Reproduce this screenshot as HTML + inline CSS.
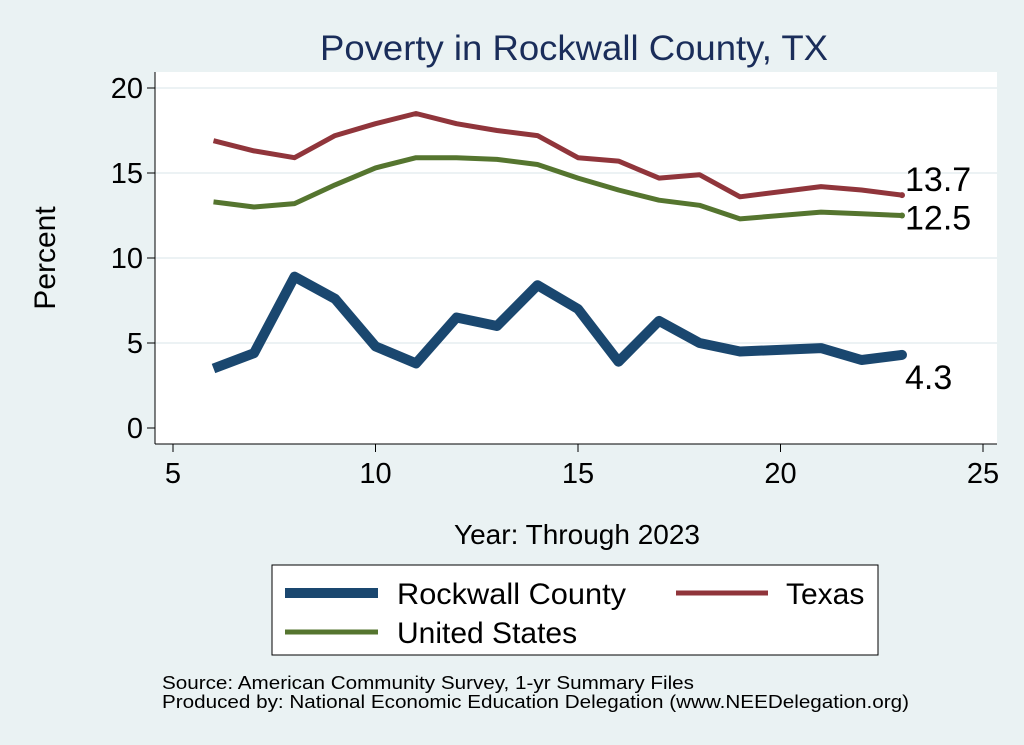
<!DOCTYPE html>
<html><head><meta charset="utf-8"><style>
body{margin:0;background:#eaf2f3;}
svg{display:block;font-family:"Liberation Sans",Arial,sans-serif;}
</style></head><body>
<svg id="c" width="1024" height="745">
<rect width="1024" height="745" fill="#eaf2f3"/>
<rect x="155" y="72" width="842" height="372" fill="#fff"/>
<text x="574" y="60" font-size="35" fill="#1a2d5a" text-anchor="middle" textLength="508" lengthAdjust="spacingAndGlyphs">Poverty in Rockwall County, TX</text>
<g id="grid"></g><g id="axes"></g><g id="lines"></g>
<text transform="translate(55,258) rotate(-90)" font-size="30" text-anchor="middle">Percent</text>
<text x="577" y="544" font-size="28" text-anchor="middle">Year: Through 2023</text>
<g>
<rect x="272" y="565" width="606" height="90" fill="#fff" stroke="#000" stroke-width="1"/>
<line x1="285" y1="593" x2="378" y2="593" stroke="#1a476f" stroke-width="10"/>
<text x="397" y="604" font-size="30" textLength="229" lengthAdjust="spacingAndGlyphs">Rockwall County</text>
<line x1="676" y1="593" x2="768" y2="593" stroke="#90353b" stroke-width="5"/>
<text x="786" y="604" font-size="30">Texas</text>
<line x1="285" y1="632" x2="378" y2="632" stroke="#55752f" stroke-width="5"/>
<text x="397" y="643" font-size="30">United States</text>
</g>
<text x="162" y="689" font-size="18" textLength="532" lengthAdjust="spacingAndGlyphs">Source: American Community Survey, 1-yr Summary Files</text>
<text x="162" y="708" font-size="18" textLength="747" lengthAdjust="spacingAndGlyphs">Produced by: National Economic Education Delegation (www.NEEDelegation.org)</text>
</svg>
<script>
const years=[6,7,8,9,10,11,12,13,14,15,16,17,18,19,21,22,23];
const rockwall=[3.5,4.4,8.9,7.6,4.8,3.8,6.5,6.0,8.4,7.0,3.9,6.3,5.0,4.5,4.7,4.0,4.3];
const texas=[16.9,16.3,15.9,17.2,17.9,18.5,17.9,17.5,17.2,15.9,15.7,14.7,14.9,13.6,14.2,14.0,13.7];
const us=[13.3,13.0,13.2,14.3,15.3,15.9,15.9,15.8,15.5,14.7,14.0,13.4,13.1,12.3,12.7,12.6,12.5];
const xTicks=[5,10,15,20,25];
const yTicks=[0,5,10,15,20];
const X=v=>173+(v-5)*40.5, Y=v=>428-v*17;
const NS="http://www.w3.org/2000/svg";
function mk(p,t,a){const e=document.createElementNS(NS,t);for(const k in a)e.setAttribute(k,a[k]);p.appendChild(e);return e;}
const grid=document.getElementById('grid'),axes=document.getElementById('axes'),lines=document.getElementById('lines');
mk(axes,'line',{x1:155,y1:72,x2:155,y2:444,stroke:'#000'});
mk(axes,'line',{x1:155,y1:444,x2:997,y2:444,stroke:'#000'});
yTicks.forEach(v=>{
 if(v>0){const g=mk(grid,'line',{x1:155,x2:997,y1:Y(v),y2:Y(v),stroke:'#e6eef0','stroke-width':1.5});
 
 }
 mk(axes,'line',{x1:147,x2:155,y1:Y(v),y2:Y(v),stroke:'#000'});
 const t=mk(axes,'text',{x:143,y:Y(v)+10,'font-size':29,'text-anchor':'end'});t.textContent=v;
 
 
});
xTicks.forEach(v=>{
 mk(axes,'line',{x1:X(v),x2:X(v),y1:444,y2:452,stroke:'#000'});
 const t=mk(axes,'text',{x:X(v),y:483,'font-size':29,'text-anchor':'middle'});t.textContent=v;
 
 
});
function series(vals,col,w,name,dy,r){
 const d=years.map((y,i)=>(i?'L':'M')+X(y)+','+Y(vals[i])).join(' ');
 const p=mk(lines,'path',{d:d,fill:'none',stroke:col,'stroke-width':w,'stroke-linejoin':'round'});
 
 
 const n=years.length-1;
 mk(lines,'circle',{cx:X(years[n]),cy:Y(vals[n]),r:r,fill:col});
 const t=mk(lines,'text',{x:X(years[n])+3,y:Y(vals[n])+dy,'font-size':34});t.textContent=vals[n].toFixed(1);
 
 
}
series(texas,'#90353b',5,'texas',-4,3);
series(us,'#55752f',5,'us',14,3);
series(rockwall,'#1a476f',10,'rockwall',34,5);
</script>
</body></html>
